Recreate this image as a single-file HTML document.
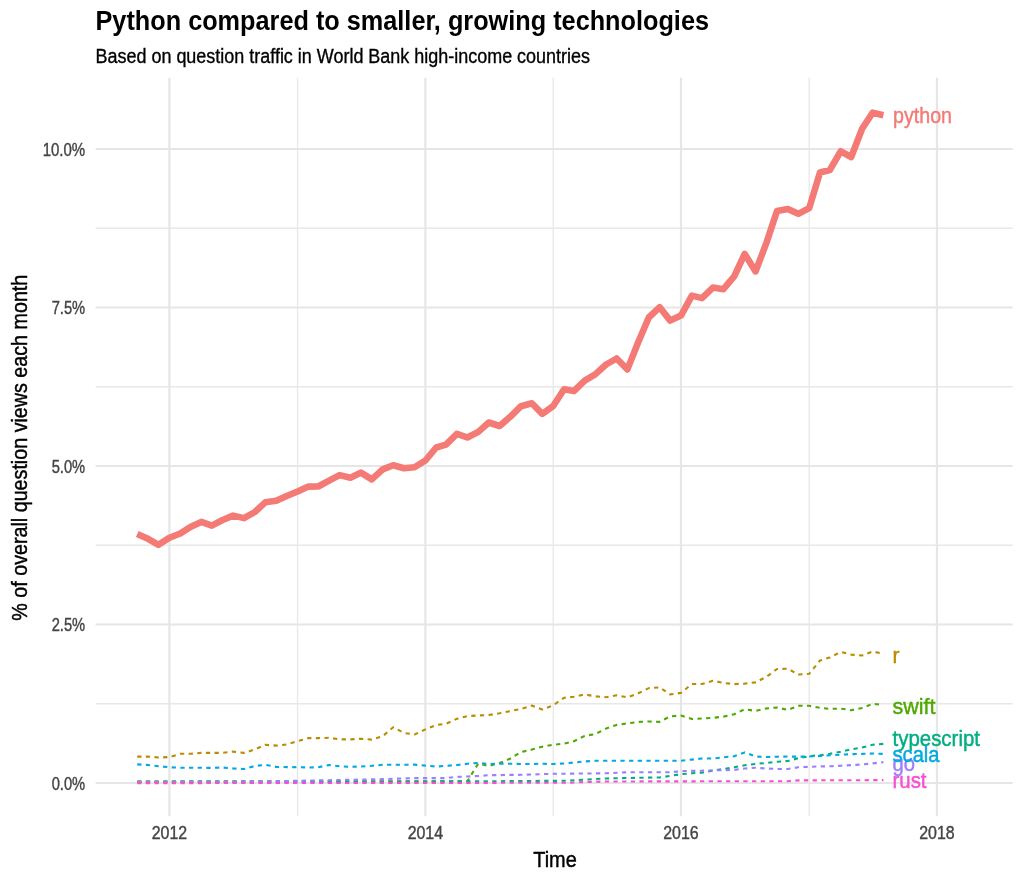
<!DOCTYPE html>
<html><head><meta charset="utf-8"><style>
html,body{margin:0;padding:0;background:#fff;width:1024px;height:878px;overflow:hidden}
svg{display:block}
text{font-family:"Liberation Sans", sans-serif}
svg{will-change:transform}
</style></head><body>
<svg width="1024" height="878" viewBox="0 0 1024 878">
<rect width="1024" height="878" fill="#fff"/>
<text x="95.5" y="30.0" font-size="26.8" font-weight="bold" fill="#000" textLength="613.5" lengthAdjust="spacingAndGlyphs">Python compared to smaller, growing technologies</text>
<text x="95.5" y="62.7" font-size="19.6" fill="#000" stroke="#000" stroke-width="0.35" textLength="494.5" lengthAdjust="spacingAndGlyphs">Based on question traffic in World Bank high-income countries</text>
<line x1="95.6" x2="1012.7" y1="703.75" y2="703.75" stroke="#e8e8e8" stroke-width="1.3"/>
<line x1="95.6" x2="1012.7" y1="545.25" y2="545.25" stroke="#e8e8e8" stroke-width="1.3"/>
<line x1="95.6" x2="1012.7" y1="386.75" y2="386.75" stroke="#e8e8e8" stroke-width="1.3"/>
<line x1="95.6" x2="1012.7" y1="228.25" y2="228.25" stroke="#e8e8e8" stroke-width="1.3"/>
<line x1="297.57" x2="297.57" y1="77.8" y2="816.3" stroke="#e8e8e8" stroke-width="1.3"/>
<line x1="553.20" x2="553.20" y1="77.8" y2="816.3" stroke="#e8e8e8" stroke-width="1.3"/>
<line x1="809.18" x2="809.18" y1="77.8" y2="816.3" stroke="#e8e8e8" stroke-width="1.3"/>
<line x1="95.6" x2="1012.7" y1="783.00" y2="783.00" stroke="#e6e6e6" stroke-width="2.2"/>
<line x1="95.6" x2="1012.7" y1="624.50" y2="624.50" stroke="#e6e6e6" stroke-width="2.2"/>
<line x1="95.6" x2="1012.7" y1="466.00" y2="466.00" stroke="#e6e6e6" stroke-width="2.2"/>
<line x1="95.6" x2="1012.7" y1="307.50" y2="307.50" stroke="#e6e6e6" stroke-width="2.2"/>
<line x1="95.6" x2="1012.7" y1="149.00" y2="149.00" stroke="#e6e6e6" stroke-width="2.2"/>
<line x1="169.40" x2="169.40" y1="77.8" y2="816.3" stroke="#e6e6e6" stroke-width="2.2"/>
<line x1="425.38" x2="425.38" y1="77.8" y2="816.3" stroke="#e6e6e6" stroke-width="2.2"/>
<line x1="681.01" x2="681.01" y1="77.8" y2="816.3" stroke="#e6e6e6" stroke-width="2.2"/>
<line x1="936.99" x2="936.99" y1="77.8" y2="816.3" stroke="#e6e6e6" stroke-width="2.2"/>
<path d="M137.2,534.0 L148.0,538.8 L158.5,544.8 L169.4,537.8 L180.3,533.5 L190.4,526.9 L201.3,521.9 L211.8,525.6 L222.6,520.0 L233.1,515.6 L244.0,518.1 L254.8,512.0 L265.3,502.3 L276.2,500.8 L286.7,496.0 L297.6,491.5 L308.4,486.6 L318.2,486.5 L329.1,480.6 L339.6,475.1 L350.4,477.8 L360.9,472.6 L371.8,479.4 L382.7,469.4 L393.2,465.3 L404.0,468.2 L414.5,467.2 L425.4,460.5 L436.2,447.5 L446.0,444.7 L456.9,433.8 L467.4,437.5 L478.3,431.9 L488.8,422.5 L499.6,426.0 L510.5,416.6 L521.0,406.2 L531.8,403.2 L542.3,413.9 L553.2,406.0 L564.1,389.3 L573.9,391.1 L584.7,380.6 L595.2,374.4 L606.1,364.5 L616.6,358.5 L627.4,369.4 L638.3,342.0 L648.8,317.5 L659.7,307.2 L670.2,320.6 L681.0,315.6 L691.9,295.6 L702.0,298.1 L712.9,287.6 L723.4,289.2 L734.2,276.4 L744.7,253.9 L755.6,271.4 L766.5,242.6 L777.0,211.0 L787.8,209.0 L798.3,213.8 L809.2,208.1 L820.0,172.5 L829.8,170.0 L840.7,151.3 L851.2,157.0 L862.1,128.8 L872.6,112.7 L883.4,115.2" fill="none" stroke="#F47A76" stroke-width="6.6" stroke-linejoin="round" stroke-linecap="butt"/>
<path d="M137.2,756.6 L148.0,756.6 L158.5,757.5 L169.4,757.1 L180.3,753.8 L190.4,753.8 L201.3,752.9 L211.8,752.9 L222.6,752.8 L233.1,751.6 L244.0,752.9 L254.8,749.5 L265.3,744.8 L276.2,745.6 L286.7,744.4 L297.6,741.2 L308.4,738.1 L318.2,738.1 L329.1,737.8 L339.6,739.4 L350.4,739.4 L360.9,738.8 L371.8,739.6 L382.7,736.2 L393.2,727.2 L404.0,733.0 L414.5,734.5 L425.4,729.4 L436.2,725.0 L446.0,723.8 L456.9,718.8 L467.4,716.2 L478.3,715.4 L488.8,715.0 L499.6,713.3 L510.5,711.1 L521.0,708.9 L531.8,705.6 L542.3,709.6 L553.2,705.2 L564.1,697.8 L573.9,696.7 L584.7,694.4 L595.2,696.3 L606.1,697.2 L616.6,695.3 L627.4,697.3 L638.3,693.3 L648.8,688.1 L659.7,687.4 L670.2,694.4 L681.0,692.9 L691.9,684.0 L702.0,684.0 L712.9,680.7 L723.4,682.9 L734.2,684.1 L744.7,683.6 L755.6,682.4 L766.5,676.7 L777.0,669.0 L787.8,668.7 L798.3,674.5 L809.2,673.8 L820.0,660.5 L829.8,657.5 L840.7,652.0 L851.2,654.6 L862.1,655.5 L872.6,651.5 L883.4,653.7" fill="none" stroke="#BA8C00" stroke-width="2.1" stroke-dasharray="4.25,4.41" stroke-linejoin="round"/>
<path d="M137.2,781.2 L148.0,781.2 L158.5,781.2 L169.4,781.2 L180.3,781.2 L190.4,781.2 L201.3,781.2 L211.8,781.2 L222.6,781.2 L233.1,781.2 L244.0,781.2 L254.8,781.2 L265.3,781.2 L276.2,781.2 L286.7,781.2 L297.6,781.2 L308.4,781.2 L318.2,781.2 L329.1,781.2 L339.6,781.2 L350.4,781.2 L360.9,781.2 L371.8,781.2 L382.7,781.2 L393.2,781.2 L404.0,781.2 L414.5,781.2 L425.4,781.2 L436.2,781.2 L446.0,781.2 L456.9,781.2 L467.4,781.2 L478.3,763.5 L488.8,766.0 L499.6,763.0 L510.5,758.5 L521.0,752.1 L531.8,749.6 L542.3,746.7 L553.2,744.7 L564.1,743.7 L573.9,741.2 L584.7,735.9 L595.2,734.1 L606.1,728.6 L616.6,724.9 L627.4,723.4 L638.3,721.9 L648.8,721.5 L659.7,721.9 L670.2,716.3 L681.0,715.6 L691.9,719.0 L702.0,718.5 L712.9,717.8 L723.4,716.6 L734.2,714.3 L744.7,709.2 L755.6,710.9 L766.5,708.4 L777.0,707.5 L787.8,710.0 L798.3,705.8 L809.2,705.8 L820.0,707.9 L829.8,708.9 L840.7,708.6 L851.2,710.2 L862.1,708.0 L872.6,703.8 L883.4,705.0" fill="none" stroke="#4EAA00" stroke-width="2.1" stroke-dasharray="4.25,4.41" stroke-linejoin="round"/>
<path d="M137.2,782.0 L148.0,782.0 L158.5,782.0 L169.4,781.9 L180.3,781.9 L190.4,781.9 L201.3,781.9 L211.8,781.9 L222.6,781.8 L233.1,781.8 L244.0,781.8 L254.8,781.8 L265.3,781.8 L276.2,781.7 L286.7,781.7 L297.6,781.7 L308.4,781.7 L318.2,781.7 L329.1,781.6 L339.6,781.6 L350.4,781.6 L360.9,781.6 L371.8,781.6 L382.7,781.5 L393.2,781.5 L404.0,781.5 L414.5,781.5 L425.4,781.5 L436.2,781.4 L446.0,781.4 L456.9,781.4 L467.4,781.3 L478.3,781.3 L488.8,781.2 L499.6,781.2 L510.5,781.1 L521.0,781.0 L531.8,781.0 L542.3,780.9 L553.2,780.9 L564.1,780.8 L573.9,780.2 L584.7,779.7 L595.2,779.0 L606.1,778.5 L616.6,778.2 L627.4,778.0 L638.3,777.8 L648.8,777.6 L659.7,777.5 L670.2,775.9 L681.0,774.1 L691.9,773.3 L702.0,772.6 L712.9,770.6 L723.4,769.0 L734.2,767.3 L744.7,765.3 L755.6,763.9 L766.5,763.0 L777.0,761.7 L787.8,761.0 L798.3,758.2 L809.2,756.2 L820.0,755.2 L829.8,753.8 L840.7,751.8 L851.2,749.3 L862.1,747.5 L872.6,744.8 L883.4,743.9" fill="none" stroke="#00AE82" stroke-width="2.1" stroke-dasharray="4.25,4.41" stroke-linejoin="round"/>
<path d="M137.2,764.4 L148.0,765.0 L158.5,766.2 L169.4,767.2 L180.3,767.8 L190.4,767.8 L201.3,767.8 L211.8,767.9 L222.6,767.5 L233.1,768.5 L244.0,769.0 L254.8,766.0 L265.3,764.8 L276.2,766.9 L286.7,767.1 L297.6,767.2 L308.4,767.5 L318.2,767.2 L329.1,765.0 L339.6,766.2 L350.4,766.9 L360.9,766.5 L371.8,765.8 L382.7,764.8 L393.2,764.8 L404.0,764.8 L414.5,764.6 L425.4,765.6 L436.2,766.5 L446.0,765.9 L456.9,765.0 L467.4,763.8 L478.3,762.9 L488.8,764.0 L499.6,763.7 L510.5,763.7 L521.0,764.0 L531.8,764.0 L542.3,763.7 L553.2,764.0 L564.1,763.4 L573.9,762.5 L584.7,761.5 L595.2,760.7 L606.1,760.7 L616.6,760.7 L627.4,760.7 L638.3,760.7 L648.8,760.7 L659.7,760.7 L670.2,760.7 L681.0,760.7 L691.9,759.6 L702.0,758.5 L712.9,758.5 L723.4,757.3 L734.2,756.2 L744.7,752.4 L755.6,756.5 L766.5,757.0 L777.0,756.7 L787.8,756.5 L798.3,756.7 L809.2,756.5 L820.0,756.0 L829.8,755.3 L840.7,754.7 L851.2,754.2 L862.1,753.9 L872.6,753.5 L883.4,753.9" fill="none" stroke="#00A9E2" stroke-width="2.1" stroke-dasharray="4.25,4.41" stroke-linejoin="round"/>
<path d="M137.2,782.1 L148.0,782.1 L158.5,782.0 L169.4,782.0 L180.3,781.9 L190.4,781.9 L201.3,781.8 L211.8,781.8 L222.6,781.7 L233.1,781.7 L244.0,781.6 L254.8,781.6 L265.3,781.4 L276.2,781.2 L286.7,781.0 L297.6,780.8 L308.4,780.6 L318.2,780.4 L329.1,780.2 L339.6,780.0 L350.4,779.8 L360.9,779.6 L371.8,779.4 L382.7,779.1 L393.2,778.8 L404.0,778.4 L414.5,778.1 L425.4,778.1 L436.2,778.1 L446.0,778.1 L456.9,776.9 L467.4,776.5 L478.3,776.0 L488.8,775.2 L499.6,775.1 L510.5,774.9 L521.0,774.8 L531.8,774.5 L542.3,774.1 L553.2,773.8 L564.1,773.7 L573.9,773.6 L584.7,773.5 L595.2,773.4 L606.1,773.3 L616.6,772.8 L627.4,772.3 L638.3,772.3 L648.8,772.3 L659.7,772.3 L670.2,772.3 L681.0,771.1 L691.9,770.9 L702.0,770.7 L712.9,770.4 L723.4,770.2 L734.2,769.9 L744.7,768.5 L755.6,767.8 L766.5,768.5 L777.0,769.0 L787.8,769.0 L798.3,767.3 L809.2,766.8 L820.0,766.4 L829.8,766.3 L840.7,765.7 L851.2,765.1 L862.1,764.5 L872.6,763.4 L883.4,762.1" fill="none" stroke="#9C7EFF" stroke-width="2.1" stroke-dasharray="4.25,4.41" stroke-linejoin="round"/>
<path d="M137.2,783.1 L148.0,783.1 L158.5,783.1 L169.4,783.1 L180.3,783.1 L190.4,783.1 L201.3,783.1 L211.8,783.0 L222.6,783.0 L233.1,783.0 L244.0,783.0 L254.8,783.0 L265.3,783.0 L276.2,783.0 L286.7,783.0 L297.6,783.0 L308.4,783.0 L318.2,783.0 L329.1,783.0 L339.6,783.0 L350.4,783.0 L360.9,782.9 L371.8,782.9 L382.7,782.9 L393.2,782.9 L404.0,782.9 L414.5,782.9 L425.4,782.9 L436.2,782.9 L446.0,782.9 L456.9,782.9 L467.4,782.9 L478.3,782.9 L488.8,782.9 L499.6,782.8 L510.5,782.8 L521.0,782.8 L531.8,782.8 L542.3,782.8 L553.2,782.8 L564.1,782.8 L573.9,782.5 L584.7,782.1 L595.2,781.8 L606.1,781.5 L616.6,781.5 L627.4,781.5 L638.3,781.4 L648.8,781.4 L659.7,781.4 L670.2,781.4 L681.0,781.4 L691.9,781.4 L702.0,781.3 L712.9,781.3 L723.4,781.3 L734.2,781.3 L744.7,781.3 L755.6,781.3 L766.5,781.2 L777.0,781.2 L787.8,781.2 L798.3,780.4 L809.2,780.4 L820.0,780.3 L829.8,780.3 L840.7,780.2 L851.2,780.2 L862.1,780.2 L872.6,780.1 L883.4,780.1" fill="none" stroke="#F74ED2" stroke-width="2.1" stroke-dasharray="4.25,4.41" stroke-linejoin="round"/>
<text x="893.0" y="123.10" font-size="22.5" fill="#F47A76" stroke="#F47A76" stroke-width="0.45" textLength="59.0" lengthAdjust="spacingAndGlyphs">python</text>
<text x="892.5" y="662.80" font-size="22.5" fill="#BA8C00" stroke="#BA8C00" stroke-width="0.45" textLength="7.0" lengthAdjust="spacingAndGlyphs">r</text>
<text x="892.5" y="713.85" font-size="22.5" fill="#4EAA00" stroke="#4EAA00" stroke-width="0.45" textLength="43.0" lengthAdjust="spacingAndGlyphs">swift</text>
<text x="892.5" y="745.80" font-size="22.5" fill="#00AE82" stroke="#00AE82" stroke-width="0.45" textLength="87.5" lengthAdjust="spacingAndGlyphs">typescript</text>
<text x="892.5" y="771.10" font-size="22.5" fill="#9C7EFF" stroke="#9C7EFF" stroke-width="0.45" textLength="22.5" lengthAdjust="spacingAndGlyphs">go</text>
<text x="892.5" y="762.00" font-size="22.5" fill="#00A9E2" stroke="#00A9E2" stroke-width="0.45" textLength="47.0" lengthAdjust="spacingAndGlyphs">scala</text>
<text x="892.5" y="788.30" font-size="22.5" fill="#F74ED2" stroke="#F74ED2" stroke-width="0.45" textLength="34.0" lengthAdjust="spacingAndGlyphs">rust</text>
<text x="85.2" y="789.80" font-size="17.9" fill="#444444" stroke="#444444" stroke-width="0.4" text-anchor="end" textLength="33.5" lengthAdjust="spacingAndGlyphs">0.0%</text>
<text x="85.2" y="631.30" font-size="17.9" fill="#444444" stroke="#444444" stroke-width="0.4" text-anchor="end" textLength="33.5" lengthAdjust="spacingAndGlyphs">2.5%</text>
<text x="85.2" y="472.80" font-size="17.9" fill="#444444" stroke="#444444" stroke-width="0.4" text-anchor="end" textLength="33.5" lengthAdjust="spacingAndGlyphs">5.0%</text>
<text x="85.2" y="314.30" font-size="17.9" fill="#444444" stroke="#444444" stroke-width="0.4" text-anchor="end" textLength="33.5" lengthAdjust="spacingAndGlyphs">7.5%</text>
<text x="85.2" y="155.80" font-size="17.9" fill="#444444" stroke="#444444" stroke-width="0.4" text-anchor="end" textLength="42.5" lengthAdjust="spacingAndGlyphs">10.0%</text>
<text x="169.40" y="839.3" font-size="17.9" fill="#444444" stroke="#444444" stroke-width="0.4" text-anchor="middle" textLength="35.5" lengthAdjust="spacingAndGlyphs">2012</text>
<text x="425.38" y="839.3" font-size="17.9" fill="#444444" stroke="#444444" stroke-width="0.4" text-anchor="middle" textLength="35.5" lengthAdjust="spacingAndGlyphs">2014</text>
<text x="681.01" y="839.3" font-size="17.9" fill="#444444" stroke="#444444" stroke-width="0.4" text-anchor="middle" textLength="35.5" lengthAdjust="spacingAndGlyphs">2016</text>
<text x="936.99" y="839.3" font-size="17.9" fill="#444444" stroke="#444444" stroke-width="0.4" text-anchor="middle" textLength="35.5" lengthAdjust="spacingAndGlyphs">2018</text>
<text x="555" y="866.6" font-size="22.9" fill="#000" stroke="#000" stroke-width="0.45" text-anchor="middle" textLength="43.5" lengthAdjust="spacingAndGlyphs">Time</text>
<text transform="translate(26.7,447.7) rotate(-90)" x="0" y="0" font-size="22.2" fill="#000" stroke="#000" stroke-width="0.45" text-anchor="middle" textLength="346" lengthAdjust="spacingAndGlyphs">% of overall question views each month</text>
</svg>
</body></html>
